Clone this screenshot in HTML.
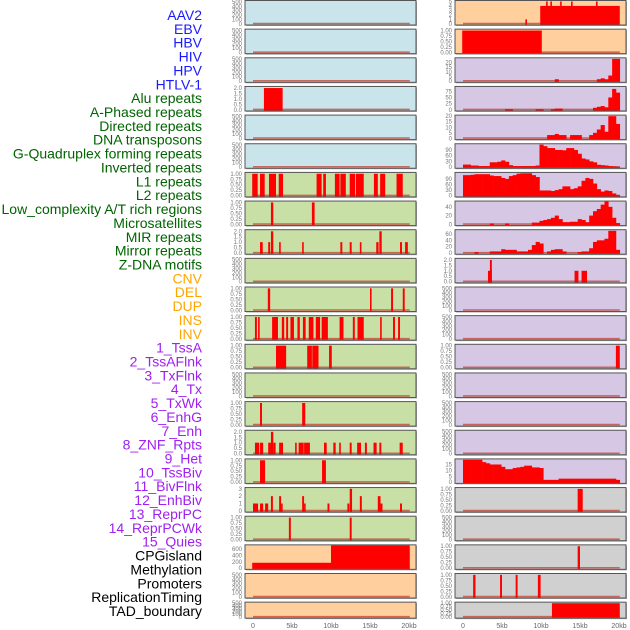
<!DOCTYPE html>
<html><head><meta charset="utf-8"><style>
body{margin:0;background:#fff;width:630px;height:630px;overflow:hidden}
svg{display:block;font-family:"Liberation Sans",sans-serif}
</style></head><body>
<svg id="chart" width="630" height="630" viewBox="0 0 630 630"></svg>
<script>
// ---------- data ----------
const trackLabels=["AAV2","EBV","HBV","HIV","HPV","HTLV-1","Alu repeats","A-Phased repeats","Directed repeats","DNA transposons","G-Quadruplex forming repeats","Inverted repeats","L1 repeats","L2 repeats","Low_complexity A/T rich regions","Microsatellites","MIR repeats","Mirror repeats","Z-DNA motifs","CNV","DEL","DUP","INS","INV","1_TssA","2_TssAFlnk","3_TxFlnk","4_Tx","5_TxWk","6_EnhG","7_Enh","8_ZNF_Rpts","9_Het","10_TssBiv","11_BivFlnk","12_EnhBiv","13_ReprPC","14_ReprPCWk","15_Quies","CPGisland","Methylation","Promoters","ReplicationTiming","TAD_boundary"];
const labelColors=["#1a1aff","#006400","#ffa500","#a020f0","#000"];
const labelGroupSizes=[6,13,5,15,5];
const xTickValues=[0,5,10,15,20];
const xTickLabels=["0","5kb","10kb","15kb","20kb"];

const T500=[0,100,200,300,400,500], T1=[0,0.25,0.5,0.75,1], T2=[0,0.5,1,1.5,2], T3=[0,1,2,3], T600=[0,200,400,600], T5=[0,1,2,3,4,5];

// segment tracks: [startKb, endKb, value]
const segAluL=[[1.4,3.8,2]];
const segL1L=[[-0.1,0.6,1],[0.9,1.5,1],[2.05,2.95,1],[3.3,3.85,1],[8.15,8.8,1],[9.0,9.35,1],[10.5,11.1,1],[11.2,11.9,1],[12.4,13.1,1],[13.2,14.2,1],[15.5,16.0,1],[16.3,16.95,1],[18.4,19.2,1]];
const segR7L=[[2.3,2.6,1],[7.55,7.9,1]];
const segR8L=[[0.9,1.25,1],[1.95,2.2,1],[2.3,2.6,2],[3.35,3.55,1],[6.3,6.5,1],[11.2,11.45,1],[12.4,12.65,1],[13.7,13.9,1],[15.8,16.1,1],[16.2,16.5,2],[18.85,19.1,1],[19.5,19.85,1]];
const segR10L=[[1.9,2.2,1],[15.0,15.2,1],[17.7,17.95,1],[19.2,19.45,1]];
const segINS=[[0.25,0.5,1],[0.65,0.85,1],[2.45,3.2,1],[3.7,4.0,1],[4.25,4.5,1],[4.8,5.25,1],[5.7,6.0,1],[6.4,6.75,1],[7.15,7.75,1],[8.05,8.6,1],[8.8,9.6,1],[11.1,11.6,1],[12.8,13.05,1],[13.4,14.2,1],[16.3,16.5,1],[17.95,18.2,1],[18.6,18.85,1]];
const segTssA=[[2.95,4.25,1],[6.95,7.55,1],[7.6,8.4,1],[9.75,10.1,1]];
const segR14L=[[0.9,1.15,1],[6.3,6.7,1]];
const segR15L=[[0.25,0.8,1],[0.9,1.3,1],[1.95,2.3,1],[2.3,2.6,2],[2.6,2.9,1],[3.35,3.85,1],[5.4,5.6,1],[5.85,6.5,1],[6.55,7.05,1],[7.05,7.3,1],[9.1,9.45,1],[10.3,10.6,1],[11.05,11.25,1],[12.4,12.65,1],[13.35,13.85,1],[14.35,14.6,1],[15.45,15.85,1],[16.2,16.45,1],[18.8,19.2,1]];
const segR16L=[[0.9,1.55,1],[8.85,9.35,1]];
const segR17L=[[0,0.65,1],[0.9,1.3,1],[1.55,1.95,1],[2.3,2.55,2],[3.35,3.6,2],[3.6,3.8,1],[6.3,6.55,2],[6.55,6.75,1],[9.55,9.8,1],[12.1,12.35,1],[12.4,12.7,3],[13.7,13.95,2],[16.0,16.35,2],[16.35,16.6,1],[18.85,19.1,1]];
const segR18L=[[4.6,4.85,1],[12.4,12.65,1]];
const segCpG=[[-0.1,10,170],[10,20.1,720]];
const segR0R=[[8.0,8.15,1],[9.9,20.1,4],[10.65,10.8,5],[11.2,11.35,5],[12.45,12.6,5],[13.85,14.0,5],[17.05,17.2,5]];
const segR1R=[[-0.1,10.1,1]];
const segR9R=[[3.2,3.7,1],[3.45,3.7,2],[14.3,14.8,1],[15.2,15.9,1]];
const segR12R=[[19.6,20.1,1]];
const segR17R=[[14.7,15.35,1]];
const segR19R=[[14.7,15.0,1]];
const segR20R=[[1.3,1.6,1],[4.75,5.0,1],[6.75,7.0,1],[9.6,9.95,1]];
const segR21R=[[11.4,20.1,1]];

// binned profiles (0.5kb bins)
const binR2=[0,0,0,0,0,0,0,0,0,0,0,0,0,0,0,0,0,0,0,0,0,0,0,0,2,0,0,0,0,0,0,0,0,0,0,2,3,2,6,24,24];
const binR3=[0,0,0,0,0,0,0,0,0,0,0,2,2,0,0,0,0,0,0,2,2,0,0,2,5,5,0,0,0,0,0,0,0,0,8,12,15,10,50,85,70];
const binR4=[0,0,0,0,0,0,0,0,0,0,0,0,0,0,0,0,0,0,0,0,0,0,3,3,4,3,3,0,3,3,3,0,0,3,5,8,12,6,20,20,13];
const binR5=[13,13,8,8,5,5,5,25,25,28,35,28,10,5,5,5,5,5,5,8,118,110,100,100,90,90,88,100,100,90,70,45,40,30,25,12,10,8,5,3,1];
const binR6=[110,110,112,115,115,115,115,108,105,105,95,90,105,110,118,120,120,120,110,100,28,28,28,25,30,35,50,50,35,40,50,80,95,90,65,35,22,28,25,12,3];
const binR7=[0,0,0,0,0,0,0,2,0,0,0,2,0,0,0,0,0,0,4,4,8,10,12,15,20,12,5,5,6,6,12,10,5,20,30,35,45,52,40,15,3];
const binR8=[0,0,0,3,0,0,0,5,5,5,12,10,10,10,5,5,5,10,25,35,30,0,5,10,12,12,5,0,0,0,3,5,5,15,35,40,40,45,70,70,10];
const binR16=[19,19,19,19,19,17,16,15,15,15,13,11,11,12,12.5,13,14,14,12.5,12.5,12,2,2,2,2,3,3,3,3,3,3,3,3,3,3,3,3,3,3,3,2];

const BG={b:"#c9e4ea",o:"#ffcf9d",p:"#d6c8e4",g:"#c8e0a5",y:"#d0d0d0"};
const panels=[
 // left column
 {c:0,r:0,bg:"b",t:T500,m:520},{c:0,r:1,bg:"b",t:T500,m:520},{c:0,r:2,bg:"b",t:T500,m:520},
 {c:0,r:3,bg:"b",t:T2,m:2.1,seg:segAluL},{c:0,r:4,bg:"b",t:T500,m:520},{c:0,r:5,bg:"b",t:T500,m:520},
 {c:0,r:6,bg:"g",t:T1,m:1.04,seg:segL1L},{c:0,r:7,bg:"g",t:T1,m:1.04,seg:segR7L},
 {c:0,r:8,bg:"g",t:T2,m:2.1,seg:segR8L},{c:0,r:9,bg:"g",t:T500,m:520},
 {c:0,r:10,bg:"g",t:T1,m:1.04,seg:segR10L},{c:0,r:11,bg:"g",t:T1,m:1.04,seg:segINS},
 {c:0,r:12,bg:"g",t:T1,m:1.04,seg:segTssA},{c:0,r:13,bg:"g",t:T500,m:520},
 {c:0,r:14,bg:"g",t:T1,m:1.04,seg:segR14L},{c:0,r:15,bg:"g",t:T2,m:2.1,seg:segR15L},
 {c:0,r:16,bg:"g",t:T1,m:1.04,seg:segR16L},{c:0,r:17,bg:"g",t:T3,m:3.1,seg:segR17L},
 {c:0,r:18,bg:"g",t:T1,m:1.04,seg:segR18L},{c:0,r:19,bg:"o",t:T600,m:720,seg:segCpG},
 {c:0,r:20,bg:"o",t:T500,m:520},{c:0,r:21,bg:"o",t:T500,m:520},
 // right column
 {c:1,r:0,bg:"o",t:T5,m:5.1,seg:segR0R},{c:1,r:1,bg:"o",t:T1,m:1.04,seg:segR1R},
 {c:1,r:2,bg:"p",t:[0,5,10,15,20],m:24.6,bin:binR2},{c:1,r:3,bg:"p",t:[0,25,50,75],m:93,bin:binR3},
 {c:1,r:4,bg:"p",t:[0,5,10,15,20],m:20.5,bin:binR4},{c:1,r:5,bg:"p",t:[0,30,60,90],m:120,bin:binR5},
 {c:1,r:6,bg:"p",t:[0,30,60,90],m:122,bin:binR6},{c:1,r:7,bg:"p",t:[0,20,40],m:52,bin:binR7},
 {c:1,r:8,bg:"p",t:[0,20,40,60],m:72,bin:binR8},{c:1,r:9,bg:"p",t:T2,m:2.1,seg:segR9R},
 {c:1,r:10,bg:"p",t:T500,m:520},{c:1,r:11,bg:"p",t:T500,m:520},
 {c:1,r:12,bg:"p",t:T1,m:1.04,seg:segR12R},{c:1,r:13,bg:"p",t:T500,m:520},
 {c:1,r:14,bg:"p",t:T500,m:520},{c:1,r:15,bg:"p",t:T500,m:520},
 {c:1,r:16,bg:"p",t:[0,5,10,15],m:19.3,bin:binR16},{c:1,r:17,bg:"y",t:T1,m:1.04,seg:segR17R},
 {c:1,r:18,bg:"y",t:T500,m:520},{c:1,r:19,bg:"y",t:T1,m:1.04,seg:segR19R},
 {c:1,r:20,bg:"y",t:T1,m:1.04,seg:segR20R},{c:1,r:21,bg:"y",t:T1,m:1.04,seg:segR21R}
];

// ---------- drawing ----------
const NS="http://www.w3.org/2000/svg";
const svg=document.getElementById("chart");
function mk(tag,attrs,parent){const e=document.createElementNS(NS,tag);for(const k in attrs)e.setAttribute(k,attrs[k]);(parent||svg).appendChild(e);return e;}
const KB=7.8;
function xScale(col,kb){return (col?463:253)+kb*KB;}
function rowTop(r){return r*28.65+0.5;}
function rowH(r){return r===21?16:24.5;}
const BINW=20.1/41;

// labels
let li=0;
labelGroupSizes.forEach((n,gi)=>{
  for(let k=0;k<n;k++,li++){
    const t=mk("text",{x:202,y:15+li*13.86+5,"text-anchor":"end","font-size":"14",fill:labelColors[gi]});
    
    
    t.textContent=trackLabels[li];
  }
});

panels.forEach(p=>{
  const g=mk("g",{});
  
  
  const left=p.c?455:245, right=p.c?626:416, top=rowTop(p.r), h=rowH(p.r), bot=top+h;
  const y=v=>bot-1.2-(v/p.m)*(h-1.7);
  mk("rect",{x:left+1,y:top+1,width:right-left,height:h,fill:"#aaa"},g);
  const bg=mk("rect",{x:left,y:top,width:right-left,height:h,fill:BG[p.bg]},g);
  
  
  // baseline
  const bl=mk("line",{x1:xScale(p.c,0),x2:xScale(p.c,20.1),y1:y(0)-0.3,y2:y(0)-0.3,stroke:"#c0392b","stroke-opacity":"0.7","stroke-width":"1.6"},g);
  
  
  if(p.seg){
    p.seg.forEach(s=>{
      const x0=xScale(p.c,s[0]),x1=xScale(p.c,s[1]);
      const b=mk("rect",{x:x0,y:y(s[2]),width:Math.max(1.6,x1-x0),height:y(0)-y(s[2])+0.8,fill:"#ff0000"},g);
      
      
    });
  }
  if(p.bin){
    p.bin.forEach((v,i)=>{
      if(!v)return;
      const x0=xScale(p.c,i*BINW),x1=xScale(p.c,(i+1)*BINW);
      const b=mk("rect",{x:x0,y:y(v),width:x1-x0+0.3,height:y(0)-y(v)+0.8,fill:"#ff0000"},g);
      
      
    });
  }
  mk("rect",{x:left,y:top,width:right-left,height:h,fill:"none",stroke:"#555","stroke-width":"1"},g);
  const dec=p.t===T1?2:(p.t===T2?1:0);
  p.t.forEach(tv=>{
    const tt=mk("text",{x:left-3,y:y(tv)+2,"text-anchor":"end","font-size":"6",fill:"#777"},g);
    
    
    tt.textContent=tv.toFixed(dec);
  });
});

// x axes
[0,1].forEach(c=>{
  xTickValues.forEach((v,i)=>{
    const t=mk("text",{x:xScale(c,v),y:628,"text-anchor":"middle","font-size":"7",fill:"#666"});
    
    
    t.textContent=xTickLabels[i];
  });
});
</script>
</body></html>
